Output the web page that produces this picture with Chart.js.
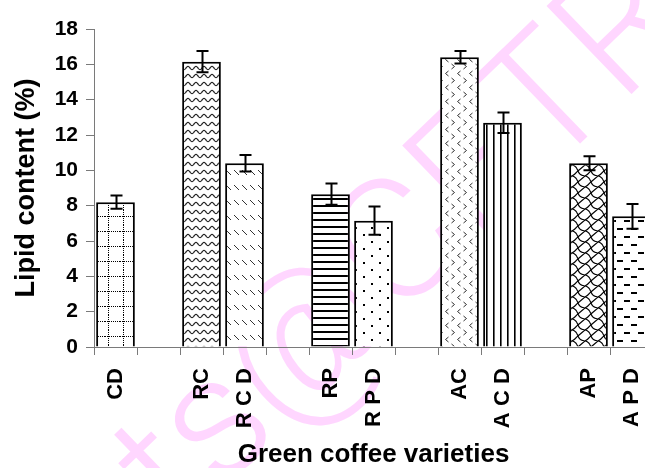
<!DOCTYPE html>
<html>
<head>
<meta charset="utf-8">
<script src="https://cdn.jsdelivr.net/npm/chart.js@4.4.1/dist/chart.umd.min.js"></script>
<style>
  html, body { margin: 0; padding: 0; background: #fff; overflow: hidden; }
  #wrap { width: 645px; height: 468px; overflow: hidden; }
  canvas { display: block; }
</style>
</head>
<body>
<div id="wrap"><canvas id="c" width="653" height="468"></canvas></div>
<script>
// Green coffee varieties; empty entries are spacer slots between groups
const categories = ['CD', '', 'RC', 'R\u2009\u200AC\u2009\u200AD', '', 'RP', 'R\u2009\u200AP\u2009\u200AD', '',
                    'AC', 'A\u2009\u200AC\u2009\u200AD', '', 'AP', 'A\u2009\u200AP\u2009\u200AD'];
// Lipid content (%) and its standard deviation
const lipidContent = [8.2, null, 16.15, 10.4, null, 8.65, 7.15, null, 16.4, 12.7, null, 10.4, 7.4];
const lipidSD      = [0.38, null, 0.6, 0.47, null, 0.6, 0.8, null, 0.35, 0.58, null, 0.4, 0.7];
const yTicks = [0, 2, 4, 6, 8, 10, 12, 14, 16, 18];

const FONT = "'Liberation Sans', Arial, sans-serif";
const AXIS_GREY = '#7a7a7a';

// ---- hatch fills, one per variety ----
function tile(w, h, draw) {
  const c = document.createElement('canvas');
  c.width = w; c.height = h;
  const g = c.getContext('2d');
  g.fillStyle = '#fff';
  g.fillRect(0, 0, w, h);
  g.fillStyle = '#000';
  g.strokeStyle = '#000';
  draw(g, w, h);
  return document.getElementById('c').getContext('2d').createPattern(c, 'repeat');
}

const fills = {
  // dotted grid
  grid: tile(15, 15, g => {
    for (let x = 0; x < 15; x += 2) g.fillRect(x, 6, 1, 1);
    for (let y = 0; y < 15; y += 2) g.fillRect(3, y, 1, 1);
  }),
  // wavy rows
  wave: tile(8, 8, g => {
    g.lineWidth = 1.2;
    g.strokeStyle = '#222';
    g.beginPath();
    for (let x = 0; x <= 8; x += 0.5) {
      const y = 4 + 1.6 * Math.cos(2 * Math.PI * x / 8);
      x === 0 ? g.moveTo(x, y) : g.lineTo(x, y);
    }
    g.stroke();
  }),
  // short dotted back-slashes
  slash: tile(8, 15, g => {
    g.fillStyle = '#333';
    for (let i = 0; i < 5; i++) g.fillRect(2 + i, 5 + i, 1, 1);
  }),
  // horizontal lines
  hlines: tile(4, 7, g => { g.fillRect(0, 2, 4, 2); }),
  // sparse dots
  dots: tile(16, 14, g => {
    g.fillRect(3, 3, 2, 2);
    g.fillRect(11, 10, 2, 2);
  }),
  // small chevrons
  chevron: tile(12, 14, g => {
    g.lineWidth = 1;
    g.strokeStyle = '#333';
    g.beginPath();
    g.moveTo(4.5, 1); g.lineTo(1.5, 3.5); g.lineTo(4.5, 6);
    g.moveTo(7.5, 8); g.lineTo(10.5, 10.5); g.lineTo(7.5, 13);
    g.stroke();
  }),
  // vertical lines
  vlines: tile(7, 4, g => {
    g.fillRect(3, 0, 1, 4);
    g.fillStyle = '#666';
    g.fillRect(4, 0, 1, 4);
  }),
  // shingle lattice
  shingle: tile(13, 11, g => {
    g.lineWidth = 1.2;
    g.beginPath();
    g.moveTo(0, 0); g.bezierCurveTo(8, 1, 3, 10, 13, 11);
    g.moveTo(13, 0); g.lineTo(6.5, 5.5);
    g.moveTo(6.5, 5.5); g.bezierCurveTo(4, 7, 4, 9, 0, 11);
    g.stroke();
  }),
  // staggered dashes
  dash: tile(14, 16, g => {
    g.fillRect(1, 4, 6, 2);
    g.fillRect(8, 12, 6, 2);
  })
};

const barFills = [fills.grid, null, fills.wave, fills.slash, null, fills.hlines, fills.dots, null,
                  fills.chevron, fills.vlines, null, fills.shingle, fills.dash];

// light watermark behind the plot
const watermark = {
  id: 'watermark',
  beforeDraw(chart) {
    const ctx = chart.ctx;
    ctx.save();
    ctx.translate(180, 530);
    ctx.rotate(-44 * Math.PI / 180);
    ctx.font = "300 172px Roboto, 'Liberation Sans', sans-serif";
    ctx.fillStyle = '#ffd6ff';
    ctx.textBaseline = 'alphabetic';
    ctx.fillText('ts@CFTRI', 0, 0);
    ctx.restore();
  }
};

// standard deviation whiskers
const errorBars = {
  id: 'errorBars',
  afterDatasetsDraw(chart) {
    const ctx = chart.ctx;
    const y = chart.scales.y;
    const meta = chart.getDatasetMeta(0);
    ctx.save();
    ctx.strokeStyle = '#000';
    ctx.lineWidth = 2;
    meta.data.forEach((bar, i) => {
      const v = lipidContent[i], e = lipidSD[i];
      if (v == null || e == null) return;
      const x = Math.round(bar.x) + 0.5;
      const yTop = y.getPixelForValue(v + e);
      const yBot = y.getPixelForValue(v - e);
      ctx.beginPath();
      ctx.moveTo(x, yTop); ctx.lineTo(x, yBot);
      ctx.moveTo(x - 6, yTop); ctx.lineTo(x + 6, yTop);
      ctx.moveTo(x - 6, yBot); ctx.lineTo(x + 6, yBot);
      ctx.stroke();
    });
    ctx.restore();
  }
};

new Chart(document.getElementById('c'), {
  type: 'bar',
  data: {
    labels: categories,
    datasets: [{
      data: lipidContent,
      backgroundColor: barFills,
      borderColor: '#000',
      borderWidth: 2,
      categoryPercentage: 1.0,
      barPercentage: 0.9
    }]
  },
  options: {
    responsive: false,
    animation: false,
    devicePixelRatio: 1,
    layout: { padding: { top: 29, right: 0, bottom: 0, left: 0 } },
    plugins: { legend: { display: false }, tooltip: { enabled: false } },
    scales: {
      x: {
        afterFit(scale) {
          scale.height = 121;
          scale.paddingLeft = 0;
          scale.paddingRight = 0;
        },
        grid: { display: true, drawOnChartArea: false, offset: true, tickLength: 8, color: AXIS_GREY, lineWidth: 1 },
        border: { display: true, color: AXIS_GREY, width: 1 },
        ticks: {
          autoSkip: false, minRotation: 90, maxRotation: 90, padding: 13,
          color: '#000', font: { family: FONT, size: 22, weight: 'bold' }
        },
        title: {
          display: true, text: 'Green coffee varieties', color: '#000',
          font: { family: FONT, size: 26, weight: 'bold' }, padding: { top: 0, bottom: -2 }
        }
      },
      y: {
        min: 0, max: 18,
        afterFit(scale) { scale.width = 94; },
        afterBuildTicks(scale) { scale.ticks = yTicks.map(v => ({ value: v })); },
        grid: { display: true, drawOnChartArea: false, tickLength: 8, color: AXIS_GREY, lineWidth: 1 },
        border: { display: true, color: AXIS_GREY, width: 1 },
        ticks: {
          padding: 8, color: '#000',
          font: { family: FONT, size: 21, weight: 'bold' }
        },
        title: {
          display: true, text: 'Lipid content (%)', color: '#000',
          font: { family: FONT, size: 27, weight: 'bold' }, padding: { top: 10, bottom: 0 }
        }
      }
    }
  },
  plugins: [watermark, errorBars]
});
</script>
</body>
</html>
